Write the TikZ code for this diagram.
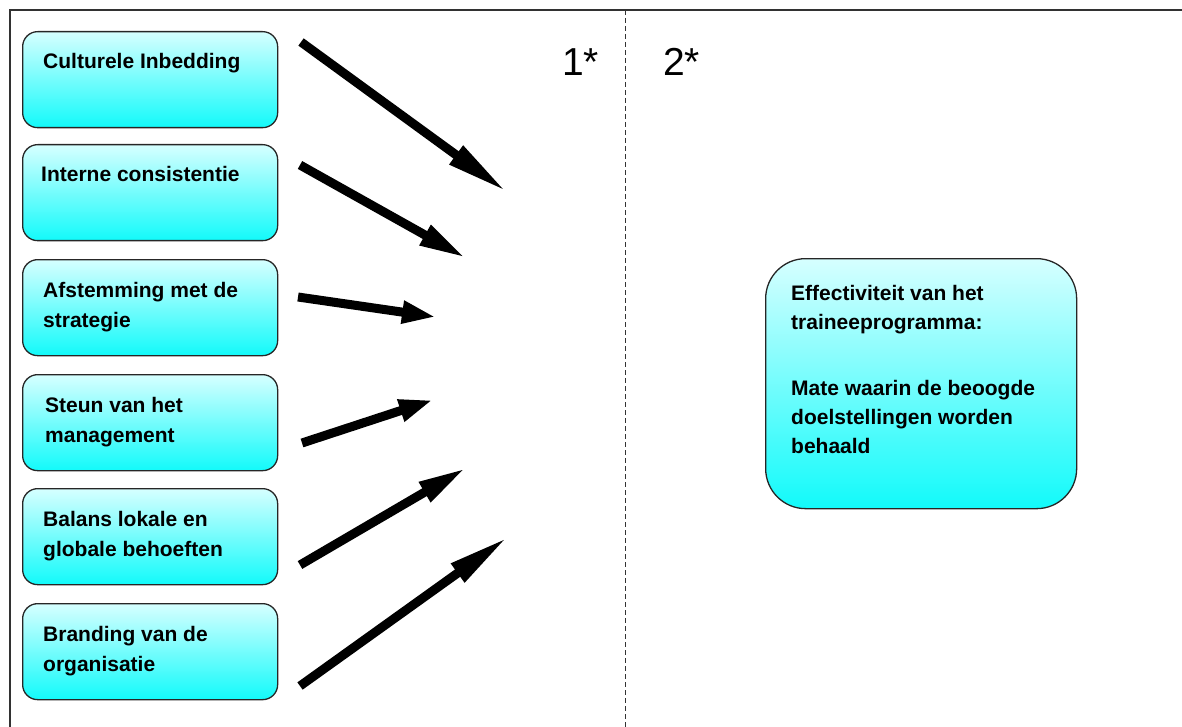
\documentclass[tikz,border=0pt]{standalone}
\usepackage{fontspec}
\setmainfont{Liberation Sans}
\usetikzlibrary{arrows.meta}

\definecolor{boxtop}{RGB}{214,255,255}
\definecolor{boxbottom}{RGB}{18,250,250}
\definecolor{framegray}{RGB}{50,50,50}

% lines of a box label, first baseline is the reference point
\newcommand\stackedlines[1]{\vtop{\baselineskip=30pt\lineskiplimit=-20pt\lineskip=0pt #1}}

\begin{document}
\begin{tikzpicture}[x=1pt,y=-1pt,
  factor/.style={draw=black!85, line width=1.3pt, rounded corners=15pt,
    top color=boxtop, bottom color=boxbottom,
    minimum width=255pt, minimum height=96pt, anchor=north west, inner sep=0pt},
  outcome/.style={draw=black!85, line width=1.3pt, rounded corners=40pt,
    top color=boxtop, bottom color=boxbottom,
    minimum width=311pt, minimum height=250pt, anchor=north west, inner sep=0pt},
  boxtext/.style={anchor=base west, inner sep=0pt,
    font=\bfseries\fontsize{21}{30}\selectfont},
  num/.style={anchor=base west, inner sep=0pt, font=\fontsize{39}{39}\selectfont},
  influence/.style={line width=9pt, black},
  framing/.style={draw=framegray, line width=2pt},
  divider/.style={draw=black!80, line width=1pt, dash pattern=on 5pt off 3pt}
]
\useasboundingbox (0,0) rectangle (1182,727);

% page frame (top and left edges) and the column divider
\coordinate (fr) at (1182,10);
\coordinate (fc) at (10,10);
\coordinate (fb) at (10,727);
\draw[framing] (fr) -- (fc) -- (fb);
\coordinate (dtop) at (625,10);
\coordinate (dbot) at (625,727);
\draw[divider] (dtop) -- (dbot);

% column numbers
\node[num] (n1) at (562,76) {1*};
\node[num] (n2) at (663,76) {2*};

% success factors
\node[factor] (b1) at (22,31) {};
\node[factor] (b2) at (22,144) {};
\node[factor] (b3) at (22,259) {};
\node[factor] (b4) at (22,374) {};
\node[factor] (b5) at (22,488) {};
\node[factor] (b6) at (22,603) {};

\node[boxtext] (t1) at (43,69) {\stackedlines{\hbox{Culturele Inbedding}}};
\node[boxtext] (t2) at (41,182) {\stackedlines{\hbox{Interne consistentie}}};
\node[boxtext] (t3) at (43,297) {\stackedlines{\hbox{Afstemming met de}\hbox{strategie}}};
\node[boxtext] (t4) at (45,412) {\stackedlines{\hbox{Steun van het}\hbox{management}}};
\node[boxtext] (t5) at (43,526) {\stackedlines{\hbox{Balans lokale en}\hbox{globale behoeften}}};
\node[boxtext] (t6) at (43,641) {\stackedlines{\hbox{Branding van de}\hbox{organisatie}}};

% outcome
\node[outcome] (res) at (765,258) {};
\node[boxtext] (tres) at (791,300) {\vtop{\baselineskip=29pt\lineskiplimit=-20pt\lineskip=0pt
  \hbox{Effectiviteit van het}\hbox{traineeprogramma:}\vskip 37pt
  \hbox{Mate waarin de beoogde}\hbox{doelstellingen worden}\hbox{behaald}}};

% arrows converging towards the divider
\coordinate (s1) at (301,42);  \coordinate (e1) at (507,192);
\coordinate (s2) at (300,165); \coordinate (e2) at (466,258);
\coordinate (s3) at (298,297); \coordinate (e3) at (436,317);
\coordinate (s4) at (302,443); \coordinate (e4) at (433,400);
\coordinate (s5) at (300,565); \coordinate (e5) at (466,468);
\coordinate (s6) at (300,686); \coordinate (e6) at (508,537);

\draw[influence, -{Triangle[length=63pt, width=21pt]}] (s1) -- (e1);
\draw[influence, -{Triangle[length=47pt, width=21pt]}] (s2) -- (e2);
\draw[influence, -{Triangle[length=34pt, width=21pt]}] (s3) -- (e3);
\draw[influence, -{Triangle[length=34pt, width=21pt]}] (s4) -- (e4);
\draw[influence, -{Triangle[length=48pt, width=21pt]}] (s5) -- (e5);
\draw[influence, -{Triangle[length=62pt, width=21pt]}] (s6) -- (e6);
\end{tikzpicture}
\end{document}
